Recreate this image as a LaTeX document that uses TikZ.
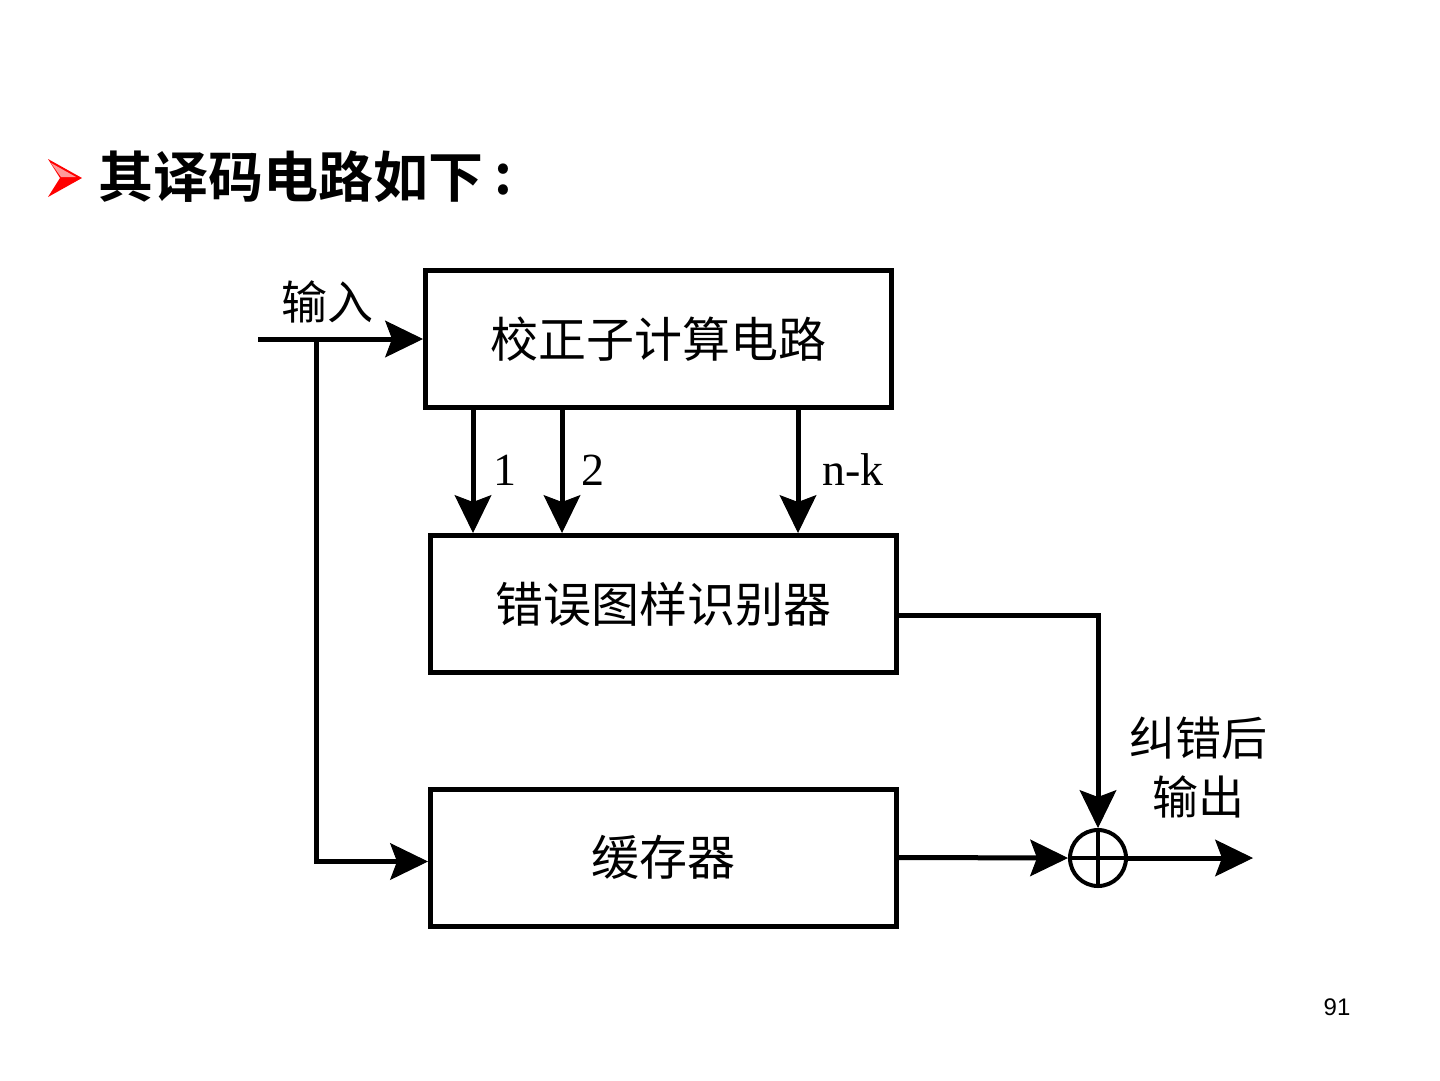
\documentclass[tikz,border=0pt]{standalone}
\usepackage{fontspec}
\setmainfont{Liberation Serif}
\newfontfamily\cjk{Noto Sans CJK SC}
\newfontfamily\cjkb{Noto Sans CJK SC Bold}
\newfontfamily\numfont{Liberation Sans}
\usetikzlibrary{arrows.meta}
\begin{document}
\begin{tikzpicture}[x=1pt,y=-1pt,line width=5pt,
  box/.style={draw,line width=5pt,minimum width=466pt,minimum height=137pt,inner sep=0pt,
    font=\cjk\fontsize{48}{52}\selectfont},
  arr/.style={-{Stealth[length=38pt,width=37pt,inset=7pt,line width=1pt]}},
  lbl/.style={inner sep=0pt,font=\cjk\fontsize{46}{50}\selectfont},
  num/.style={inner sep=0pt,font=\fontsize{46}{50}\selectfont}]
\useasboundingbox (0,0) rectangle (1440,1080);
% title bullet
\fill[red] (48,159) -- (82,178) -- (48,197) -- (60,178) -- cycle;
\fill[white!60!red] (51,163) -- (76,177) -- (61,177) -- cycle;
\node[anchor=west,inner sep=0pt,font=\cjkb\fontsize{55}{60}\selectfont] (title) at (96,177) {其译码电路如下};
\node[inner sep=0pt,font=\cjkb\fontsize{55}{60}\selectfont] (colon) at (503,180) {:};
% boxes
\node[box] (b1) at (658.5,339) {校正子计算电路};
\node[box] (b2) at (663.5,604) {错误图样识别器};
\node[box] (b3) at (663.5,857.5) {缓存器};
\node[draw,circle,line width=4pt,minimum size=56pt,inner sep=0pt] (sum) at (1098,858) {};
\draw[line width=4pt] (sum.west) -- (sum.east) (sum.north) -- (sum.south);
% coordinates
\coordinate (in) at (258,339);
\coordinate (br) at (316,339);
\coordinate (x1) at (473,0);
\coordinate (x2) at (562,0);
\coordinate (x3) at (798,0);
\coordinate (out) at (1253,858);
% connectors
\draw[arr] (in) -- (b1.west);
\draw[arr] (br) |- ([yshift=-4pt]b3.west);
\draw[arr] (x1 |- b1.south) -- (x1 |- b2.north);
\draw[arr] (x2 |- b1.south) -- (x2 |- b2.north);
\draw[arr] (x3 |- b1.south) -- (x3 |- b2.north);
\draw[arr] ([yshift=-11pt]b2.east) -| (sum.north);
\draw[arr] (b3.east) -- (sum.west);
\draw[arr] (sum.east) -- (out);
% labels
\node[lbl] (lin) at (327,302) {输入};
\node[num] (l1) at (505,470) {1};
\node[num] (l2) at (593,470) {2};
\node[num] (l3) at (853,470) {n-k};
\node[lbl] (lo1) at (1198,738) {纠错后};
\node[lbl] (lo2) at (1198,797) {输出};
\node[inner sep=0pt,font=\numfont\fontsize{24}{28}\selectfont] (pg) at (1337,1007) {91};
\end{tikzpicture}
\end{document}
